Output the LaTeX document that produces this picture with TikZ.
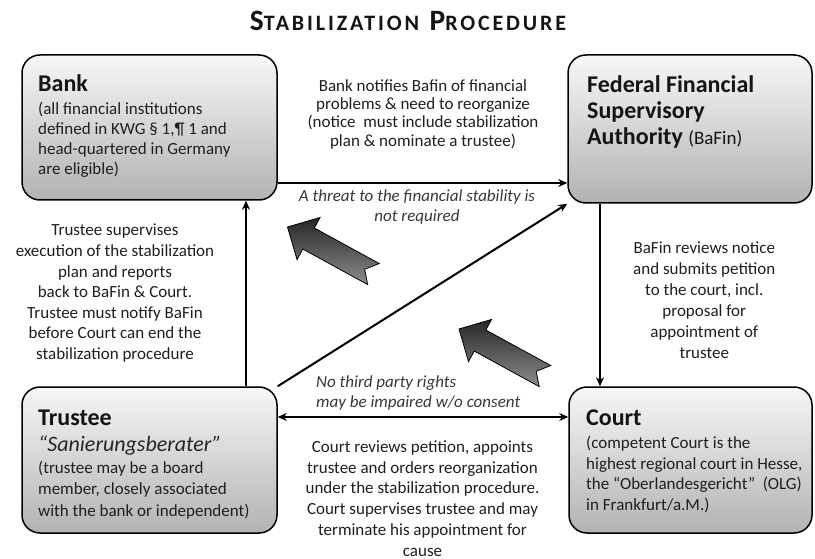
\documentclass[tikz,border=0pt]{standalone}
\usepackage{fontspec}
\setmainfont{Carlito}
\usetikzlibrary{arrows.meta,calc}
\begin{document}
\begin{tikzpicture}[x=1pt,y=-1pt,
  box/.style={draw=black, line width=1.5pt, rounded corners=18pt, top color=black!3, bottom color=black!30, inner sep=0pt},
  head/.style={font=\fontsize{24}{26}\selectfont\bfseries, text=black!92, inner sep=0pt, align=left},
  body/.style={font=\fontsize{17}{20}\selectfont, text=black!88, inner sep=0pt},
  itl/.style={font=\fontsize{17}{20}\selectfont\itshape, text=black!78, inner sep=0pt},
  arr/.style={line width=2pt, -{Stealth[length=9pt,width=8pt]}},
  darr/.style={line width=2pt, {Stealth[length=9pt,width=8pt]}-{Stealth[length=9pt,width=8pt]}},
  bigarrow/.style={draw=black, line width=0.8pt, top color=black!85, bottom color=black!45}
]
\useasboundingbox (0,0) rectangle (815,559);

% title
\node[anchor=base, inner sep=0pt, text=black!92] (title) at (408,31)
  {\bfseries\addfontfeature{LetterSpace=13}\fontsize{29.5}{30}\selectfont S{\fontsize{22}{24}\selectfont TABILIZATION} P{\fontsize{22}{24}\selectfont ROCEDURE}};

% boxes
\node[box, minimum width=255, minimum height=145] (bank) at (149.5,127.5) {};
\node[box, minimum width=244, minimum height=148] (bafin) at (690,129) {};
\node[box, minimum width=255, minimum height=146] (trustee) at (149.5,460) {};
\node[box, minimum width=243, minimum height=146] (court) at (690.5,460) {};

% box texts
\node[head, anchor=base west] (bankh) at (38,91.5) {Bank};
\node[body, align=left, anchor=west] (bankb) at (38,140)
  {(all financial institutions\\defined in KWG § 1,¶ 1 and\\head-quartered in Germany\\are eligible)};

\node[head, anchor=west] (bafinh) at (587,111.5)
  {Federal Financial\\Supervisory\\Authority {\fontsize{19}{20}\selectfont\mdseries (BaFin)}};

\node[head, anchor=base west] (trusteeh) at (38,425) {Trustee};
\node[anchor=base west, inner sep=0pt, font=\fontsize{22}{24}\selectfont\itshape, text=black!85] (trusteei) at (38,451.7) {“Sanierungsberater”};
\node[body, align=left, anchor=west, font=\fontsize{17}{21.7}\selectfont] (trusteeb) at (38,490)
  {(trustee may be a board\\member, closely associated\\with the bank or independent)};

\node[head, anchor=base west] (courth) at (586,425) {Court};
\node[body, align=left, anchor=west, font=\fontsize{17}{20.9}\selectfont] (courtb) at (586,474.5)
  {(competent Court is the\\highest regional court in Hesse,\\the “Oberlandesgericht”\ \ (OLG)\\in Frankfurt/a.M.)};

% connector texts
\node[body, align=center, font=\fontsize{17}{18.3}\selectfont] (t1) at (423,114.2)
  {Bank notifies Bafin of financial\\problems \& need to reorganize\\(notice\ \ must include stabilization\\plan \& nominate a trustee)};
\node[itl, align=center] (t2) at (417,206.7)
  {A threat to the financial stability is\\not required};
\node[body, align=center, font=\fontsize{17}{20.6}\selectfont] (t3) at (115,293.3)
  {Trustee supervises\\execution of the stabilization\\plan and reports\\back to BaFin \& Court.\\Trustee must notify BaFin\\before Court can end the\\stabilization procedure};
\node[body, align=center, font=\fontsize{17}{21}\selectfont] (t4) at (704.3,299.7)
  {BaFin reviews notice\\and submits petition\\to the court, incl.\\proposal for\\appointment of\\trustee};
\node[itl, align=left, anchor=west] (t5) at (316,393.3)
  {No third party rights\\may be impaired w/o consent};
\node[body, align=center, font=\fontsize{17}{20.7}\selectfont] (t6) at (422.5,498.5)
  {Court reviews petition, appoints\\trustee and orders reorganization\\under the stabilization procedure.\\Court supervises trustee and may\\terminate his appointment for\\cause};

% connectors
\coordinate (yA) at (0,183);
\coordinate (yB) at (0,417);
\coordinate (xL) at (246,0);
\coordinate (xR) at (600,0);
\draw[arr] (bank.east |- yA) -- (bafin.west |- yA);
\draw[arr] (trustee.north -| xL) -- (bank.south -| xL);
\draw[arr] (bafin.south -| xR) -- (court.north -| xR);
\draw[darr] (trustee.east |- yB) -- (court.west |- yB);
\draw[arr] (trustee.north east) -- (bafin.south west);

% big shaded arrows
\begin{scope}[shift={(287.5,227)}, rotate=-28.7]
  \path[bigarrow] (0,0) -- (24,-24) -- (24,-12) -- (98,-12) -- (88,0) -- (98,12) -- (24,12) -- (24,24) -- cycle;
\end{scope}
\begin{scope}[shift={(459,329)}, rotate=-28.7]
  \path[bigarrow] (0,0) -- (24,-24) -- (24,-12) -- (98,-12) -- (88,0) -- (98,12) -- (24,12) -- (24,24) -- cycle;
\end{scope}
\end{tikzpicture}
\end{document}
